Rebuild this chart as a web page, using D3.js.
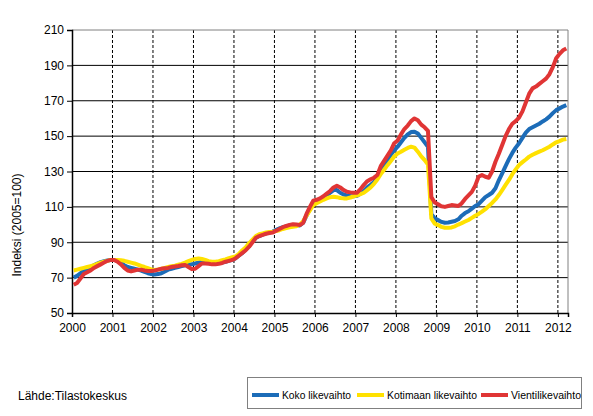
<!DOCTYPE html>
<html>
<head>
<meta charset="utf-8">
<script src="https://cdn.jsdelivr.net/npm/d3@7"></script>
<style>
  body { margin: 0; background: #fff; }
  text { font-family: "Liberation Sans", Arial, sans-serif; fill: #000; }
</style>
</head>
<body>
<div id="chart"></div>
<script>
// monthly index, 2005=100, Jan 2000 - Mar 2012
var yearLabels = ["2000","2001","2002","2003","2004","2005","2006","2007","2008","2009","2010","2011","2012"];
var yTicks = [50, 70, 90, 110, 130, 150, 170, 190, 210];

var koko = [
  70, 71, 72.5, 74, 75, 76, 77, 78, 78.8, 79.3, 79.7, 80,
  80, 79.5, 78.5, 77, 76, 75.5, 75, 74.5, 74, 73.2, 72.5, 72,
  71.8, 72, 72.5, 73.5, 74.5, 75, 75.5, 76, 76.5, 77, 77.3, 77.5,
  78, 78.5, 79, 79, 78.5, 78, 78, 78.3, 78.5, 79, 79.5, 80,
  81, 82.5, 84, 86, 88, 90.5, 92.5, 93.5, 94.3, 95, 95.5, 96,
  97, 97.8, 98.5, 99, 99.5, 99.8, 99.7, 99.5, 101, 105, 109, 112,
  113, 114, 115, 116.5, 118, 119.5, 119.5, 118, 117, 116.5, 116.2, 116,
  116.3, 117.5, 119, 121, 122.5, 124, 127, 130.5, 133.5, 136.5, 139.5, 142,
  144, 146.5, 149, 151, 152.3, 152.5, 151.5, 149, 146.5, 144, 106, 103.5,
  102.5, 101.5, 101, 101.2, 101.6, 102, 103, 105, 106.5, 107.5, 109, 110.5,
  111.5, 113.5, 115.5, 116.7, 118, 120.5, 125, 129, 133, 137, 140.5, 143.5,
  146, 149, 152, 154, 155, 156, 157, 158.3, 159.5, 161, 163, 164.7,
  165.7, 166.7, 167.5
];

var kotimaan = [
  74, 74.5, 75, 75.5, 76, 76.5, 77, 77.8, 78.5, 79, 79.5, 80,
  80, 80, 79.8, 79.5, 79, 78.5, 78, 77.3, 76.6, 76, 75.3, 74.6,
  74.3, 74.6, 75, 75.5, 76, 76.4, 76.8, 77.3, 77.8, 78.5, 79.3, 80,
  80.5, 80.8, 80.5, 80, 79.3, 79, 79, 79.3, 79.8, 80.3, 81, 81.5,
  82, 83.5, 85.5, 87.2, 89.5, 91.5, 93.5, 94.5, 95, 95.5, 95.8, 96,
  96.3, 96.8, 97.5, 98, 98.5, 98.8, 99, 100, 102, 105, 108, 111,
  112, 113, 114, 114.8, 115.5, 115.7, 115.5, 115, 114.8, 114.8, 115.3, 116,
  116.5, 117.2, 118, 119.5, 121, 123, 125.5, 128.5, 131, 133.6, 136, 138.5,
  140.2, 141.2, 142.3, 143.3, 144, 143.5, 141.2, 138.5, 136.5, 134, 103.5, 100.5,
  99.7, 98.7, 98.2, 98.2, 98.4, 99, 100, 100.8, 101.7, 102.6, 103.8, 105,
  106, 107.3, 108.7, 110.5, 112.2, 114.2, 116.7, 119.5, 122.4, 125.2, 128.5, 131.2,
  133.7, 135.3, 136.8, 138.4, 139.5, 140.4, 141.2, 142, 143, 144, 145.3, 146.5,
  147.2, 148, 148.4
];

var vienti = [
  66, 67, 69.5, 72, 73, 74, 75.5, 76.5, 77.5, 78.5, 79.5, 80,
  80, 79, 77.5, 75.5, 74, 73.5, 74, 74.5, 74.5, 74, 73.8, 73.8,
  74, 74.5, 75, 75.3, 75.5, 76, 76.3, 76.6, 77, 77.2, 76, 74.8,
  75, 76.5, 78, 78, 77.8, 77.5, 77.5, 77.8, 78.3, 79, 79.5, 80,
  81, 82.5, 84, 85.5, 87.5, 90, 92.5, 93.5, 94.2, 94.8, 95.2, 95.5,
  96.5, 97.5, 98.5, 99.2, 99.8, 100.2, 100, 99.7, 101, 106, 110, 113.5,
  114, 114.8, 116, 117.5, 119, 121, 122, 121, 119.5, 118.5, 118.2, 118,
  118, 120, 122.5, 124.5, 125.6, 126.5, 128, 133, 136, 139, 142, 146,
  147.5, 151, 154, 156, 158.5, 160, 159, 156.5, 155, 153, 115.5, 112.5,
  111.5, 110.3, 110, 110.5, 111, 110.8, 110.5, 112, 114.5, 116.5, 118.5, 122,
  127, 128, 127, 126.5, 130, 135.5, 140, 145, 150, 154, 157, 158.5,
  160.5, 164, 169, 174, 177, 178, 179.5, 181, 182.5, 185, 189, 194,
  196.5, 198.5, 199.5
];

var seriesNames = ["Koko likevaihto", "Kotimaan likevaihto", "Vientilikevaihto"];
var seriesColors = ["#1c6cb8", "#ffe100", "#e03535"];
var seriesData = [koko, kotimaan, vienti];

var width = 593, height = 416;
var margin = {top: 30, right: 25, bottom: 103, left: 72};
var nMonths = koko.length;

var svg = d3.select("#chart").append("svg")
  .attr("width", width)
  .attr("height", height);

var x = d3.scaleLinear()
  .domain([0, nMonths])
  .range([margin.left, width - margin.right]);

var y = d3.scaleLinear()
  .domain([50, 210])
  .range([height - margin.bottom, margin.top]);

// horizontal gridlines
svg.append("g")
  .selectAll("line")
  .data(yTicks.slice(1, -1))
  .enter().append("line")
  .attr("x1", x(0)).attr("x2", x(nMonths))
  .attr("y1", d => y(d)).attr("y2", d => y(d))
  .attr("stroke", "#000").attr("stroke-width", 1);

// yearly dashed lines
svg.append("g")
  .selectAll("line")
  .data(d3.range(1, yearLabels.length))
  .enter().append("line")
  .attr("x1", d => x(d * 12)).attr("x2", d => x(d * 12))
  .attr("y1", y(210)).attr("y2", y(50))
  .attr("stroke", "#000").attr("stroke-width", 1)
  .attr("stroke-dasharray", "3,2");

// plot border top / right
svg.append("path")
  .attr("d", `M${x(0)},${y(210)}H${x(nMonths)}V${y(50)}`)
  .attr("fill", "none")
  .attr("stroke", "#808080");

// axes
var yAxis = d3.axisLeft(y)
  .tickValues(yTicks)
  .tickSize(5)
  .tickPadding(3);

svg.append("g")
  .attr("class", "axis yAxis")
  .attr("transform", `translate(${x(0)},0)`)
  .call(yAxis);

var xAxis = d3.axisBottom(x)
  .tickValues(d3.range(0, yearLabels.length).map(d => d * 12))
  .tickFormat((d, i) => yearLabels[i])
  .tickSize(4)
  .tickPadding(6);

svg.append("g")
  .attr("class", "axis xAxis")
  .attr("transform", `translate(0,${y(50)})`)
  .call(xAxis);

svg.selectAll(".axis path, .axis line").attr("stroke", "#000");
svg.selectAll(".axis path").attr("stroke-width", 1.5);
svg.selectAll(".axis text")
  .style("font-family", "'Liberation Sans', Arial, sans-serif")
  .style("font-size", "12px")
  .attr("fill", "#000");
svg.selectAll(".xAxis .tick line").attr("y1", 0);

// lines
var line = d3.line()
  .x((d, i) => x(i + 0.5))
  .y(d => y(d));

svg.append("g")
  .selectAll("path")
  .data(seriesData)
  .enter().append("path")
  .attr("d", line)
  .attr("fill", "none")
  .attr("stroke", (d, i) => seriesColors[i])
  .attr("stroke-width", 4)
  .attr("stroke-linejoin", "round");

// y axis title
svg.append("text")
  .attr("transform", "translate(21,225) rotate(-90)")
  .style("text-anchor", "middle")
  .style("font-size", "12px")
  .text("Indeksi (2005=100)");

// source
svg.append("text")
  .attr("x", 18)
  .attr("y", 400)
  .style("font-size", "12px")
  .text("Lähde:Tilastokeskus");

// legend
var legend = svg.append("g");
legend.append("rect")
  .attr("x", 247.5).attr("y", 377.5)
  .attr("width", 334).attr("height", 31)
  .attr("fill", "#fff")
  .attr("stroke", "#808080");

var legendX = [252, 357, 481];
var legendTextW = [69, 90, 70];
var items = legend.selectAll("g.item")
  .data(seriesNames)
  .enter().append("g")
  .attr("class", "item")
  .attr("transform", (d, i) => `translate(${legendX[i]},395)`);

items.append("line")
  .attr("x1", 0).attr("x2", 27)
  .attr("y1", 0).attr("y2", 0)
  .attr("stroke", (d, i) => seriesColors[i])
  .attr("stroke-width", 4);

items.append("text")
  .attr("x", 30)
  .attr("y", 4)
  .attr("textLength", (d, i) => legendTextW[i])
  .attr("lengthAdjust", "spacingAndGlyphs")
  .style("font-size", "11px")
  .text(d => d);
</script>
</body>
</html>
